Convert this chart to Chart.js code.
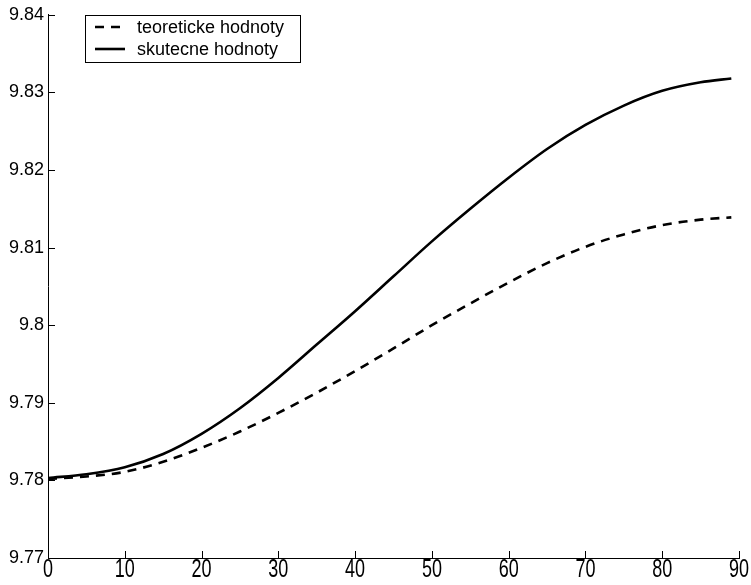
<!DOCTYPE html>
<html>
<head>
<meta charset="utf-8">
<script src="https://cdn.jsdelivr.net/npm/chart.js@4/dist/chart.umd.min.js"></script>
<style>
  html, body { margin: 0; padding: 0; background: #fff; }
  #wrap { width: 751px; height: 585px; position: relative; }
</style>
</head>
<body>
<div id="wrap"><canvas id="c" width="751" height="585"></canvas></div>
<script>
// ---- data ----
const latitudes = [0, 5, 10, 15, 20, 25, 30, 35, 40, 45, 50, 55, 60, 65, 70, 75, 80, 85, 89];
const theoretical = [9.7802, 9.7805, 9.7811, 9.7824, 9.7842, 9.7863, 9.7887, 9.7913, 9.7941, 9.7970,
                     9.8000, 9.8028, 9.8055, 9.8080, 9.8101, 9.8117, 9.8129, 9.8136, 9.8139];
const actual = [9.7803, 9.7808, 9.7817, 9.7834, 9.7860, 9.7893, 9.7932, 9.7975, 9.8018, 9.8063,
                9.8108, 9.8150, 9.8190, 9.8227, 9.8258, 9.8283, 9.8302, 9.8313, 9.8318];
const seriesNames = ['teoreticke hodnoty', 'skutecne hodnoty'];
const xTicks = [0, 10, 20, 30, 40, 50, 60, 70, 80, 90];
const yTicks = [9.77, 9.78, 9.79, 9.80, 9.81, 9.82, 9.83, 9.84];

const FONT = 'Liberation Sans, Arial, Helvetica, sans-serif';
const DASH = [9, 7];
const X_LABEL_STRETCH = 1.45;

function pts(xs, ys) { return xs.map((x, i) => ({ x: x, y: ys[i] })); }

// inward tick marks (MATLAB style) + vertically stretched x tick labels
const inwardTicks = {
  id: 'inwardTicks',
  afterDatasetsDraw(chart) {
    const { ctx, chartArea, scales } = chart;
    ctx.save();
    ctx.strokeStyle = '#000';
    ctx.lineWidth = 1;
    ctx.beginPath();
    xTicks.forEach(v => {
      const px = Math.round(scales.x.getPixelForValue(v)) + 0.5;
      ctx.moveTo(px, chartArea.bottom);
      ctx.lineTo(px, chartArea.bottom - 7);
    });
    yTicks.forEach(v => {
      const py = Math.round(scales.y.getPixelForValue(v)) + 0.5;
      ctx.moveTo(chartArea.left, py);
      ctx.lineTo(chartArea.left + 7, py);
    });
    ctx.stroke();
    ctx.restore();

    // x tick labels (the reference shows them stretched vertically)
    ctx.save();
    ctx.fillStyle = '#000';
    ctx.font = '18px ' + FONT;
    ctx.textAlign = 'center';
    ctx.textBaseline = 'middle';
    const cy = chartArea.bottom + 12;
    ctx.translate(0, cy);
    ctx.scale(1, X_LABEL_STRETCH);
    xTicks.forEach(v => {
      ctx.fillText(String(v), scales.x.getPixelForValue(v), 0);
    });
    ctx.restore();
  }
};

// boxed legend inside the plot
const boxLegend = {
  id: 'boxLegend',
  afterDraw(chart) {
    const { ctx } = chart;
    const bx = 85.5, by = 15.5, bw = 215, bh = 47;
    ctx.save();
    ctx.fillStyle = '#fff';
    ctx.fillRect(bx, by, bw, bh);
    ctx.strokeStyle = '#000';
    ctx.lineWidth = 1;
    ctx.strokeRect(bx, by, bw, bh);
    const rows = [27, 49];
    chart.data.datasets.forEach((ds, i) => {
      const y = rows[i];
      ctx.beginPath();
      ctx.setLineDash(ds.borderDash || []);
      ctx.lineWidth = ds.borderWidth;
      ctx.strokeStyle = ds.borderColor;
      ctx.moveTo(95, y);
      ctx.lineTo(125, y);
      ctx.stroke();
      ctx.setLineDash([]);
      ctx.fillStyle = '#000';
      ctx.font = '18px ' + FONT;
      ctx.textBaseline = 'middle';
      ctx.textAlign = 'left';
      ctx.fillText(ds.label, 137, y + 1);
    });
    ctx.restore();
  }
};

new Chart(document.getElementById('c'), {
  type: 'line',
  data: {
    datasets: [
      {
        label: seriesNames[0],
        data: pts(latitudes, theoretical),
        borderColor: '#000',
        borderWidth: 2.6,
        borderDash: DASH,
        pointRadius: 0,
        fill: false,
        cubicInterpolationMode: 'monotone'
      },
      {
        label: seriesNames[1],
        data: pts(latitudes, actual),
        borderColor: '#000',
        borderWidth: 2.6,
        pointRadius: 0,
        fill: false,
        cubicInterpolationMode: 'monotone'
      }
    ]
  },
  options: {
    responsive: false,
    animation: false,
    devicePixelRatio: 1,
    layout: { padding: { top: 13, right: 12, left: 0, bottom: 0 } },
    plugins: {
      legend: { display: false },
      tooltip: { enabled: false }
    },
    scales: {
      x: {
        type: 'linear',
        min: 0,
        max: 90,
        afterBuildTicks(s) { s.ticks = xTicks.map(v => ({ value: v })); },
        afterFit(s) { s.height = 27; },
        grid: { display: false, drawTicks: false },
        border: { display: true, color: '#000', width: 1 },
        ticks: { display: false }
      },
      y: {
        type: 'linear',
        min: 9.77,
        max: 9.84,
        afterBuildTicks(s) { s.ticks = yTicks.map(v => ({ value: v })); },
        afterFit(s) { s.width = 48; },
        grid: { display: false, drawTicks: false },
        border: { display: true, color: '#000', width: 1 },
        ticks: {
          color: '#000',
          padding: 4,
          font: { family: FONT, size: 18 },
          callback: v => String(Number(v.toFixed(2)))
        }
      }
    }
  },
  plugins: [inwardTicks, boxLegend]
});
</script>
</body>
</html>
